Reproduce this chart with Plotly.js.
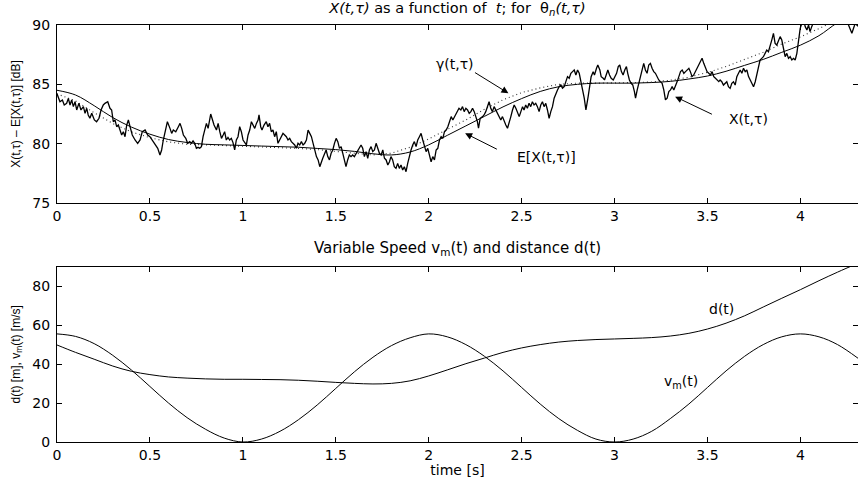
<!DOCTYPE html>
<html>
<head>
<meta charset="utf-8">
<script src="https://cdn.plot.ly/plotly-3.0.1.min.js"></script>
<style>body{margin:0;background:#fff}#chart{width:858px;height:478px}</style>
</head>
<body>
<div id="chart"></div>
<script>
// ---- Upper panel: measured level X(t,tau) ----
const tX = [0.000,0.016,0.029,0.039,0.052,0.061,0.070,0.079,0.088,0.097,0.106,0.118,0.129,0.142,0.151,0.160,0.168,0.177,0.187,0.201,0.213,0.226,0.237,0.249,0.258,0.273,0.285,0.294,0.303,0.312,0.321,0.330,0.339,0.348,0.357,0.366,0.375,0.384,0.393,0.405,0.420,0.434,0.447,0.459,0.474,0.488,0.500,0.513,0.527,0.542,0.554,0.563,0.572,0.581,0.594,0.608,0.617,0.626,0.639,0.653,0.662,0.671,0.680,0.693,0.703,
0.714,0.723,0.732,0.741,0.750,0.759,0.768,0.777,0.786,0.795,0.804,0.813,0.822,0.827,0.834,0.845,0.858,0.867,0.876,0.885,0.894,0.902,0.911,0.920,0.929,0.938,0.947,0.956,0.965,0.974,0.983,0.992,1.001,1.010,1.019,1.028,1.037,1.046,1.055,1.064,1.073,1.082,1.087,1.096,1.103,1.114,1.126,1.135,1.144,1.153,1.162,1.171,1.180,1.189,1.198,1.207,1.216,1.225,1.234,1.243,1.252,1.261,1.270,1.279,1.288,1.297,1.306,1.315,1.324,1.333,1.342,1.351,1.360,1.369,1.378,1.387,1.396,1.405,1.414,
1.430,1.439,1.448,1.457,1.466,1.475,1.484,1.493,1.502,1.511,1.520,1.529,1.538,1.547,1.555,1.564,1.573,1.582,1.591,1.600,1.609,1.618,1.627,1.636,1.645,1.654,1.663,1.672,1.681,1.690,1.699,1.708,1.717,1.726,1.735,1.744,1.753,1.762,1.771,1.780,1.789,1.797,1.806,1.815,1.824,1.833,1.842,1.851,1.860,1.869,1.878,1.887,1.896,1.905,1.914,1.923,1.932,1.941,1.950,1.959,1.968,1.977,1.986,1.995,2.004,2.013,2.022,2.031,2.040,2.049,2.058,2.067,2.076,2.085,2.094,2.103,2.112,2.121,2.130,
2.146,2.154,2.163,2.173,2.182,2.191,2.200,2.209,2.218,2.227,2.236,2.245,2.253,2.262,2.268,2.277,2.290,2.298,2.307,2.316,2.325,2.334,2.343,2.352,2.361,2.370,2.379,2.388,2.397,2.406,2.415,2.424,2.433,2.442,2.451,2.460,2.469,2.478,2.487,2.496,2.505,2.513,2.522,2.531,2.540,2.549,2.558,2.567,2.576,2.585,2.594,2.603,2.612,2.621,2.630,2.639,2.648,2.657,2.666,2.675,2.684,2.693,2.702,2.711,2.720,2.729,2.738,2.747,2.756,2.765,2.774,2.783,2.792,2.801,2.810,2.819,2.828,2.837,2.846,
2.858,2.867,2.874,2.885,2.892,2.903,2.910,2.921,2.928,2.939,2.946,2.955,2.964,2.973,2.982,2.993,3.002,3.011,3.020,3.028,3.037,3.046,3.055,3.064,3.071,3.080,3.089,3.098,3.107,3.113,3.122,3.130,3.139,3.148,3.157,3.166,3.175,3.184,3.193,3.202,3.211,3.220,3.229,3.238,3.247,3.256,3.265,3.274,3.283,3.292,3.301,3.310,3.319,3.328,3.337,3.346,3.355,3.364,3.373,3.382,3.391,3.400,3.408,3.417,3.426,3.435,3.444,3.453,3.462,3.471,3.480,3.489,3.498,3.507,3.516,3.525,3.534,3.543,3.552,3.561,3.568,
3.577,3.586,3.595,3.604,3.613,3.622,3.631,3.640,3.649,3.658,3.667,3.676,3.685,3.694,3.703,3.712,3.721,3.730,3.739,3.748,3.757,3.766,3.774,3.783,3.792,3.801,3.810,3.819,3.828,3.837,3.846,3.855,3.864,3.873,3.882,3.891,3.900,3.909,3.918,3.927,3.936,3.945,3.954,3.963,3.972,3.981,3.990,3.999,4.008,4.017,4.026,4.035,4.044,4.052,4.061,4.070,4.079,4.088,4.106,4.124,4.142,4.160,4.178,4.196,4.214,4.232,4.250,4.259,4.268,4.277,4.286,4.295,4.310];
const xMeas = [84.2,83.54,83.68,83.26,83.40,83.82,83.26,83.68,83.12,83.54,82.84,83.40,82.84,83.12,82.56,82.98,82.42,82.14,82.56,82.00,81.85,82.14,82.84,83.26,83.40,83.54,82.98,82.84,81.85,82.00,81.43,81.57,81.15,80.73,81.00,80.59,81.57,82.00,81.43,80.73,80.31,80.03,80.31,81.01,81.15,80.73,80.59,80.31,80.03,79.61,79.05,79.47,80.31,81.01,81.85,81.29,80.87,81.15,81.01,81.43,81.71,81.29,80.73,80.45,80.03,
80.17,80.03,80.23,80.03,79.61,79.69,79.61,79.75,80.59,81.15,81.71,81.29,81.99,82.50,82.14,81.57,81.15,81.71,81.01,80.45,80.73,81.01,80.31,80.53,80.31,80.45,80.09,79.47,80.31,80.59,81.43,81.01,80.31,80.03,79.89,80.73,81.15,81.85,81.57,81.29,81.71,81.99,82.42,81.43,81.15,81.57,81.85,81.43,81.71,81.01,81.15,80.59,81.01,80.03,80.31,80.59,80.87,80.73,80.59,80.31,80.45,80.17,80.03,79.89,79.61,80.03,79.89,80.17,79.89,80.03,80.31,81.15,80.87,80.59,80.03,79.47,78.91,78.63,78.06,
78.77,79.19,79.47,78.91,78.63,79.19,79.47,80.03,80.45,80.17,79.61,79.75,79.19,78.77,78.06,78.63,79.05,78.91,79.05,78.91,79.19,79.47,79.75,79.89,79.61,78.91,79.33,78.77,79.47,79.75,79.33,79.47,80.03,79.61,79.19,79.05,79.47,78.77,78.63,78.20,78.48,78.91,78.63,78.06,77.92,78.34,77.92,78.20,77.78,78.06,77.64,78.34,79.05,79.47,79.89,80.17,79.75,80.31,80.59,80.87,80.31,79.75,79.33,79.61,78.91,78.48,78.91,78.63,79.47,79.61,80.31,80.59,80.45,81.01,81.15,81.43,81.85,82.28,82.00,
82.42,82.70,82.98,82.84,83.12,82.70,82.98,82.84,82.56,82.70,82.98,82.70,82.28,81.86,81.30,82.14,82.28,82.42,82.70,83.12,83.54,82.98,82.70,83.12,82.84,82.42,82.14,82.00,82.28,81.86,81.58,81.30,81.72,82.28,82.84,83.26,82.98,82.70,82.28,82.70,83.12,82.84,83.26,82.98,83.40,83.12,83.54,83.26,83.40,83.12,82.70,83.26,83.54,83.12,83.40,82.84,82.14,82.70,83.12,83.83,84.25,84.53,84.81,84.95,84.67,84.81,85.23,85.65,85.51,85.93,86.07,86.21,85.79,86.21,85.93,85.09,84.53,83.83,82.84,
83.97,85.09,85.65,86.07,85.79,86.35,86.63,86.21,85.65,85.51,85.37,85.79,86.21,85.79,85.51,85.37,85.65,85.93,86.49,86.63,86.07,85.79,86.21,86.49,85.93,85.37,85.09,84.95,84.39,83.83,84.53,85.09,85.79,86.35,86.77,86.21,85.93,86.63,86.77,86.35,86.07,85.93,85.65,85.37,85.23,85.09,84.53,83.69,83.83,84.39,84.53,84.81,84.53,84.81,85.23,85.65,86.07,86.21,85.93,86.07,86.21,86.35,86.07,85.65,85.79,86.07,86.49,86.77,87.05,87.20,86.77,86.35,86.07,85.93,85.79,86.07,85.65,85.51,85.37,85.23,85.37,
85.22,84.94,85.08,85.22,84.80,84.66,85.08,85.22,84.94,85.65,85.93,86.21,85.93,86.35,86.07,86.21,85.65,85.37,85.08,84.80,85.22,85.93,86.49,87.05,87.19,87.33,87.61,87.89,87.75,88.17,88.73,89.30,88.45,88.31,88.73,89.02,88.73,87.89,87.33,87.61,87.19,87.33,87.05,87.19,87.05,87.61,88.73,89.72,90.14,90.42,89.86,89.58,90.00,89.44,89.86,90.14,90.60,90.90,91.20,90.80,91.30,91.00,91.40,91.10,90.90,91.20,90.60,90.00,89.58,89.30,89.72,90.14,89.90];

// smooth expectation E[X(t,tau)] and gamma(t,tau)
const tS = [0,0.1,0.2,0.3,0.4,0.5,0.6,0.7,0.8,0.9,1.0,1.1,1.2,1.3,1.4,1.5,1.6,1.7,1.8,1.9,2.0,2.1,2.2,2.3,2.4,2.5,2.6,2.7,2.8,2.9,3.0,3.1,3.2,3.3,3.4,3.5,3.6,3.7,3.8,3.9,4.0,4.1,4.2,4.31];
const eMean = [84.5,84.1,83.2,82.2,81.4,80.8,80.35,80.1,79.95,79.9,79.85,79.8,79.75,79.7,79.6,79.5,79.35,79.15,79.05,79.3,79.9,80.7,81.5,82.3,83.1,83.8,84.4,84.8,85.0,85.1,85.1,85.1,85.15,85.25,85.45,85.7,86.1,86.6,87.1,87.7,88.3,89.1,90.2,91.1];
const gamma = [84.2,83.6,82.6,81.7,81.0,80.5,80.15,79.95,79.9,79.85,79.8,79.75,79.7,79.6,79.5,79.35,79.2,79.05,79.2,79.7,80.4,81.2,82.0,82.9,83.7,84.3,84.7,85.0,85.1,85.1,85.1,85.15,85.2,85.35,85.6,86.0,86.5,87.1,87.7,88.4,89.0,89.7,90.5,91.3];

// ---- Lower panel: speed and distance ----
const tL = [0,0.1,0.2,0.3,0.4,0.5,0.6,0.7,0.8,0.9,1.0,1.1,1.2,1.3,1.4,1.5,1.6,1.7,1.8,1.9,2.0,2.1,2.2,2.3,2.4,2.5,2.6,2.7,2.8,2.9,3.0,3.1,3.2,3.3,3.4,3.5,3.6,3.7,3.8,3.9,4.0,4.1,4.2,4.31];
const speed = [55.5,54.2,50.5,44.5,37.0,28.5,20.0,12.5,6.5,2.0,0,1.5,5.5,11.5,19.0,27.5,36.0,43.5,49.5,53.5,55.5,54.0,50.0,44.0,36.5,28.0,19.5,12.0,6.0,1.5,0,1.5,5.5,12.0,19.5,28.0,36.5,44.0,50.0,54.0,55.5,54.0,50.0,43.0];
const dist = [49.8,46.0,42.5,39.0,36.3,34.6,33.4,32.8,32.4,32.2,32.2,32.1,32.0,31.7,31.2,30.6,30.1,29.8,30.1,31.4,33.9,37.0,40.2,43.1,46.0,48.3,50.0,51.3,52.1,52.6,52.9,53.2,53.6,54.4,55.8,58.0,61.0,64.8,69.3,73.8,78.2,82.8,87.2,91.8];

const FONT = 'DejaVu Sans, sans-serif';
const YFONT = 'Liberation Sans, Arial, sans-serif';

const traces = [
  {x:tS, y:gamma, xaxis:'x', yaxis:'y', mode:'lines', line:{color:'#333', width:1.1, dash:'1px,3px'}},
  {x:tS, y:eMean, xaxis:'x', yaxis:'y', mode:'lines', line:{color:'black', width:1, shape:'spline'}},
  {x:tX, y:xMeas, xaxis:'x', yaxis:'y', mode:'lines', line:{color:'black', width:1.3}},
  {x:tL, y:speed, xaxis:'x2', yaxis:'y2', mode:'lines', line:{color:'black', width:1, shape:'spline'}},
  {x:tL, y:dist, xaxis:'x2', yaxis:'y2', mode:'lines', line:{color:'black', width:1, shape:'spline'}}
];

const axisBase = {
  ticks:'inside', ticklen:5, tickcolor:'black', showline:true, mirror:'ticks',
  linecolor:'black', linewidth:1, showgrid:false, zeroline:false,
  tickfont:{family:FONT, size:14, color:'black'}
};

function arrow(xr, yr, x, y, ax, ay) {
  return {xref:xr, yref:yr, axref:xr, ayref:yr, x:x, y:y, ax:ax, ay:ay, text:'',
          showarrow:true, arrowhead:2, arrowsize:1.4, arrowwidth:1, arrowcolor:'black', standoff:0};
}
function label(xr, yr, x, y, txt) {
  return {xref:xr, yref:yr, x:x, y:y, text:txt, showarrow:false,
          font:{family:FONT, size:14, color:'black'}};
}

const layout = {
  width:858, height:478,
  margin:{l:57, r:0, t:25, b:36},
  paper_bgcolor:'white', plot_bgcolor:'white',
  showlegend:false,
  font:{family:FONT, size:14, color:'black'},
  title:{text:'<i>X(t,τ)</i> as a function of&nbsp; <i>t</i>; for&nbsp; θ<sub><i>n</i></sub><i>(t,τ)</i>',
         x:0.5, xref:'paper', y:1-8/478, yref:'container', yanchor:'middle',
         font:{family:FONT, size:14.5, color:'black'}},
  xaxis:Object.assign({}, axisBase, {domain:[0,1], anchor:'y', range:[0,4.31], tick0:0, dtick:0.5}),
  yaxis:Object.assign({}, axisBase, {domain:[0.5731,1], anchor:'x', range:[75,90], tick0:75, dtick:5,
         ticklabelstandoff:3,
         title:{text:'X(t,τ) – E[X(t,τ)] [dB]', standoff:9, font:{family:YFONT, size:12, color:'black'}}}),
  xaxis2:Object.assign({}, axisBase, {domain:[0,1], anchor:'y2', range:[0,4.31], tick0:0, dtick:0.5,
         title:{text:'time [s]', standoff:0, font:{family:FONT, size:14, color:'black'}}}),
  yaxis2:Object.assign({}, axisBase, {domain:[0,0.4204], anchor:'x2', range:[0,90], tickvals:[0,20,40,60,80],
         ticklabelstandoff:3,
         title:{text:'d(t) [m], v<sub>m</sub>(t) [m/s]', standoff:9, font:{family:YFONT, size:12, color:'black'}}}),
  annotations:[
    arrow('x','y', 2.429, 84.25, 2.241, 86.07),
    label('x','y', 2.139, 86.71, 'γ(t,τ)'),
    arrow('x','y', 2.196, 80.88, 2.375, 79.47),
    label('x','y', 2.635, 78.84, 'E[X(t,τ)]'),
    arrow('x','y', 3.326, 83.96, 3.532, 82.42),
    label('x','y', 3.719, 82.08, 'X(t,τ)'),
    label('x2','y2', 3.574, 68.3, 'd(t)'),
    label('x2','y2', 3.358, 30.8, 'v<sub>m</sub>(t)'),
    {xref:'paper', yref:'paper', x:0.5, y:0.4652, yanchor:'middle', showarrow:false,
     text:'Variable Speed v<sub>m</sub>(t) and distance d(t)', font:{family:FONT, size:15, color:'black'}}
  ]
};

Plotly.newPlot('chart', traces, layout, {displayModeBar:false, staticPlot:true});
</script>
</body>
</html>
